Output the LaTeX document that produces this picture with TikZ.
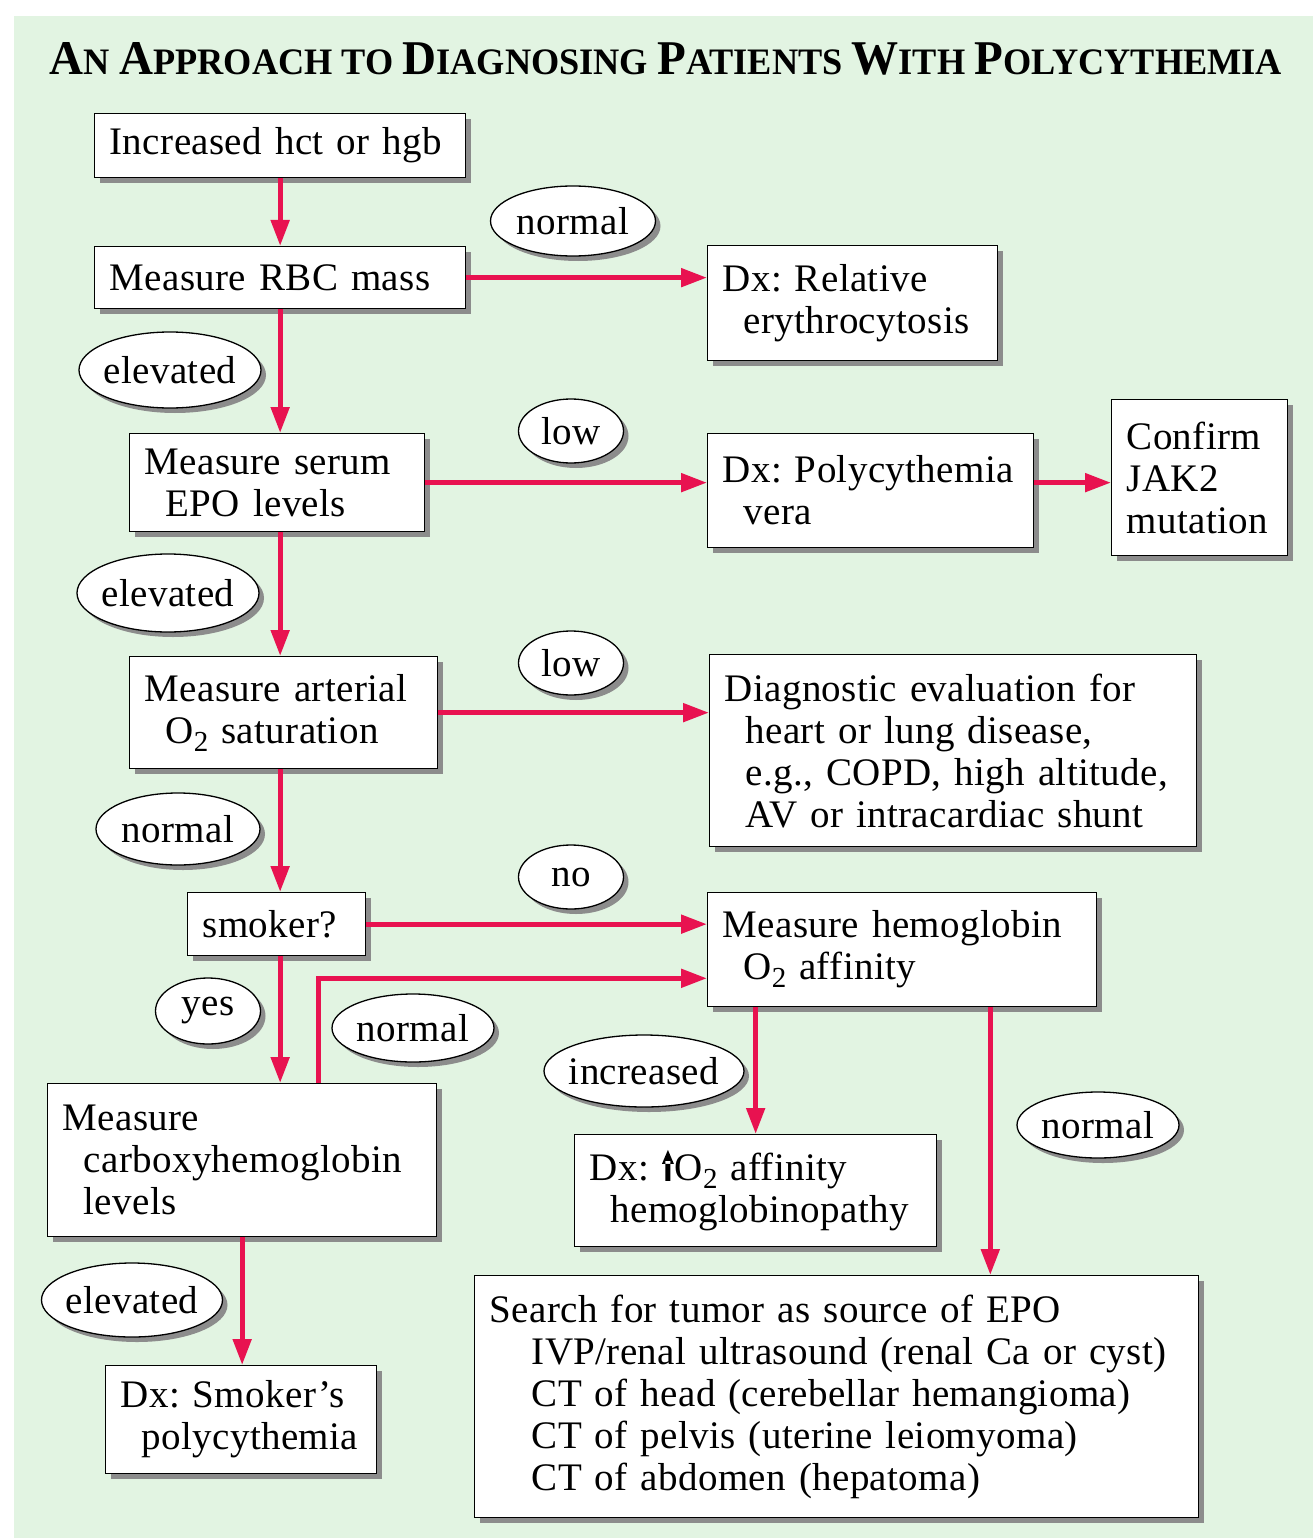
\documentclass[tikz,border=0pt]{standalone}
\usepackage{fontspec}
\usepackage{graphicx}
\setmainfont[LetterSpace=1]{Liberation Serif}
\newfontfamily\titlefont{Liberation Serif}
\usetikzlibrary{shapes.geometric,shadows,arrows.meta,calc}
\definecolor{bggreen}{RGB}{226,244,226}
\definecolor{flowred}{RGB}{232,18,80}
\newcommand{\ind}{\hspace*{21pt}}
\newcommand{\boxfont}{\fontsize{39}{42}\selectfont\frenchspacing\hyphenpenalty=10000\exhyphenpenalty=10000}
\newcommand{\Otwo}{O\raisebox{-8pt}{\fontsize{29}{29}\selectfont 2}}
\newcommand{\tcap}[1]{{\fontsize{48}{48}\selectfont #1}}
\newcommand{\uparr}{\tikz[baseline=0pt]\fill (-2.5pt,0pt) rectangle (2.5pt,20pt) (-6pt,17pt) -- (6pt,17pt) -- (0pt,31pt) -- cycle;\hspace{1pt}}
\begin{document}
\begin{tikzpicture}[x=1pt,y=-1pt,
  box/.style={draw,line width=1.3pt,fill=white,anchor=north west,align=left,
    inner xsep=15pt,inner ysep=4pt,font=\boxfont,
    drop shadow={shadow xshift=5pt,shadow yshift=-5pt,fill=black!45,opacity=1}},
  tag/.style={ellipse,draw,line width=1.3pt,fill=white,inner sep=0pt,
    minimum height=70pt,font=\boxfont,
    drop shadow={shadow xshift=5pt,shadow yshift=-5pt,fill=black!45,opacity=1}},
  flow/.style={draw=flowred,line width=5pt,-{Triangle[length=26pt,width=18pt]}}]
  \useasboundingbox (0,0) rectangle (1313,1538);
  \fill[bggreen] (14,16) rectangle (1313,1538);
  \node[anchor=base] (title) at (666,75) {\resizebox{1232pt}{32pt}{\titlefont\bfseries\fontsize{37}{37}\selectfont
    \tcap{A}N \tcap{A}PPROACH TO \tcap{D}IAGNOSING \tcap{P}ATIENTS \tcap{W}ITH \tcap{P}OLYCYTHEMIA}};

  % main column
  \node[box,text width=341pt,minimum height=64pt] (a) at (94,113) {Increased hct or hgb};
  \node[box,text width=341pt,minimum height=62pt] (b) at (94,246) {Measure RBC mass};
  \node[box,text width=265pt,minimum height=98pt] (d) at (129,433) {Measure serum\\\ind EPO levels};
  \node[box,text width=278pt,minimum height=112pt] (g) at (129,656) {Measure arterial\\\ind \Otwo{} saturation};
  \node[box,text width=148pt,minimum height=63pt] (i) at (187,892) {smoker?};
  \node[box,text width=359pt,minimum height=153pt] (k) at (47,1083) {Measure\\\ind carboxyhemoglobin\\\ind levels};
  \node[box,text width=241pt,minimum height=108pt] (n) at (105,1365) {Dx: Smoker’s\\\ind polycythemia};

  % right side
  \node[box,text width=260pt,minimum height=115pt] (c) at (707,245) {Dx: Relative\\\ind erythrocytosis};
  \node[box,text width=296pt,minimum height=114pt] (e) at (707,433) {Dx: Polycythemia\\\ind vera};
  \node[box,text width=146pt,minimum height=156pt] (f) at (1111,399) {Confirm\\JAK2\\mutation};
  \node[box,text width=457pt,minimum height=192pt] (h) at (709,654) {Diagnostic evaluation for\\\ind heart or lung disease,\\\ind e.g., COPD, high altitude,\\\ind AV or intracardiac shunt};
  \node[box,text width=359pt,minimum height=114pt] (j) at (707,892) {Measure hemoglobin\\\ind \Otwo{} affinity};
  \node[box,text width=332pt,minimum height=112pt] (l) at (574,1134) {Dx: \uparr\Otwo{} affinity\\\ind hemoglobinopathy};
  \node[box,text width=694pt,minimum height=242pt] (m) at (474,1275) {Search for tumor as source of EPO\\\ind\ind IVP/renal ultrasound (renal Ca or cyst)\\\ind\ind CT of head (cerebellar hemangioma)\\\ind\ind CT of pelvis (uterine leiomyoma)\\\ind\ind CT of abdomen (hepatoma)};

  % labels
  \node[tag,minimum width=165pt] (t1) at (573,221) {\makebox[0pt]{normal}};
  \node[tag,minimum width=182pt,minimum height=76pt] (t2) at (170,370) {\makebox[0pt]{elevated}};
  \node[tag,minimum width=105pt,minimum height=64pt] (t3) at (571,431) {\makebox[0pt]{low}};
  \node[tag,minimum width=182pt,minimum height=78pt] (t4) at (168,593) {\makebox[0pt]{elevated}};
  \node[tag,minimum width=105pt,minimum height=64pt] (t5) at (571,663) {\makebox[0pt]{low}};
  \node[tag,minimum width=164pt,minimum height=72pt] (t6) at (178,829) {\makebox[0pt]{normal}};
  \node[tag,minimum width=105pt,minimum height=64pt] (t7) at (571,877) {\makebox[0pt]{no}};
  \node[tag,minimum width=105pt,minimum height=66pt] (t8) at (208,1011) {\makebox[0pt]{yes}};
  \node[tag,minimum width=162pt,minimum height=68pt] (t9) at (413,1028) {\makebox[0pt]{normal}};
  \node[tag,minimum width=200pt,minimum height=72pt] (t10) at (644,1071) {\makebox[0pt]{increased}};
  \node[tag,minimum width=162pt,minimum height=66pt] (t11) at (1098,1125) {\makebox[0pt]{normal}};
  \node[tag,minimum width=181pt,minimum height=74pt] (t12) at (132,1300) {\makebox[0pt]{elevated}};

  % connectors
  \coordinate (kj) at ($(k.north west)+(271,0)$);
  \coordinate (jm) at ($(j.south east)+(-107,0)$);
  \draw[flow] (a.south) -- (b.north);
  \draw[flow] (b.south) -- (b.south |- d.north);
  \draw[flow] (b.south |- d.south) -- (b.south |- g.north);
  \draw[flow] (b.south |- g.south) -- (b.south |- i.north);
  \draw[flow] (b.south |- i.south) -- (b.south |- k.north);
  \draw[flow] (b.east) -- (b.east -| c.west);
  \draw[flow] (d.east) -- (d.east -| e.west);
  \draw[flow] (d.east -| e.east) -- (d.east -| f.west);
  \draw[flow] (g.east) -- (g.east -| h.west);
  \draw[flow] (i.east) -- (i.east -| j.west);
  \draw[flow] (kj) |- ($(j.south west)+(0,-29)$);
  \draw[flow] (l.north |- j.south) -- (l.north);
  \draw[flow] (jm) -- (jm |- m.north);
  \draw[flow] (k.south) -- (k.south |- n.north);
\end{tikzpicture}
\end{document}
